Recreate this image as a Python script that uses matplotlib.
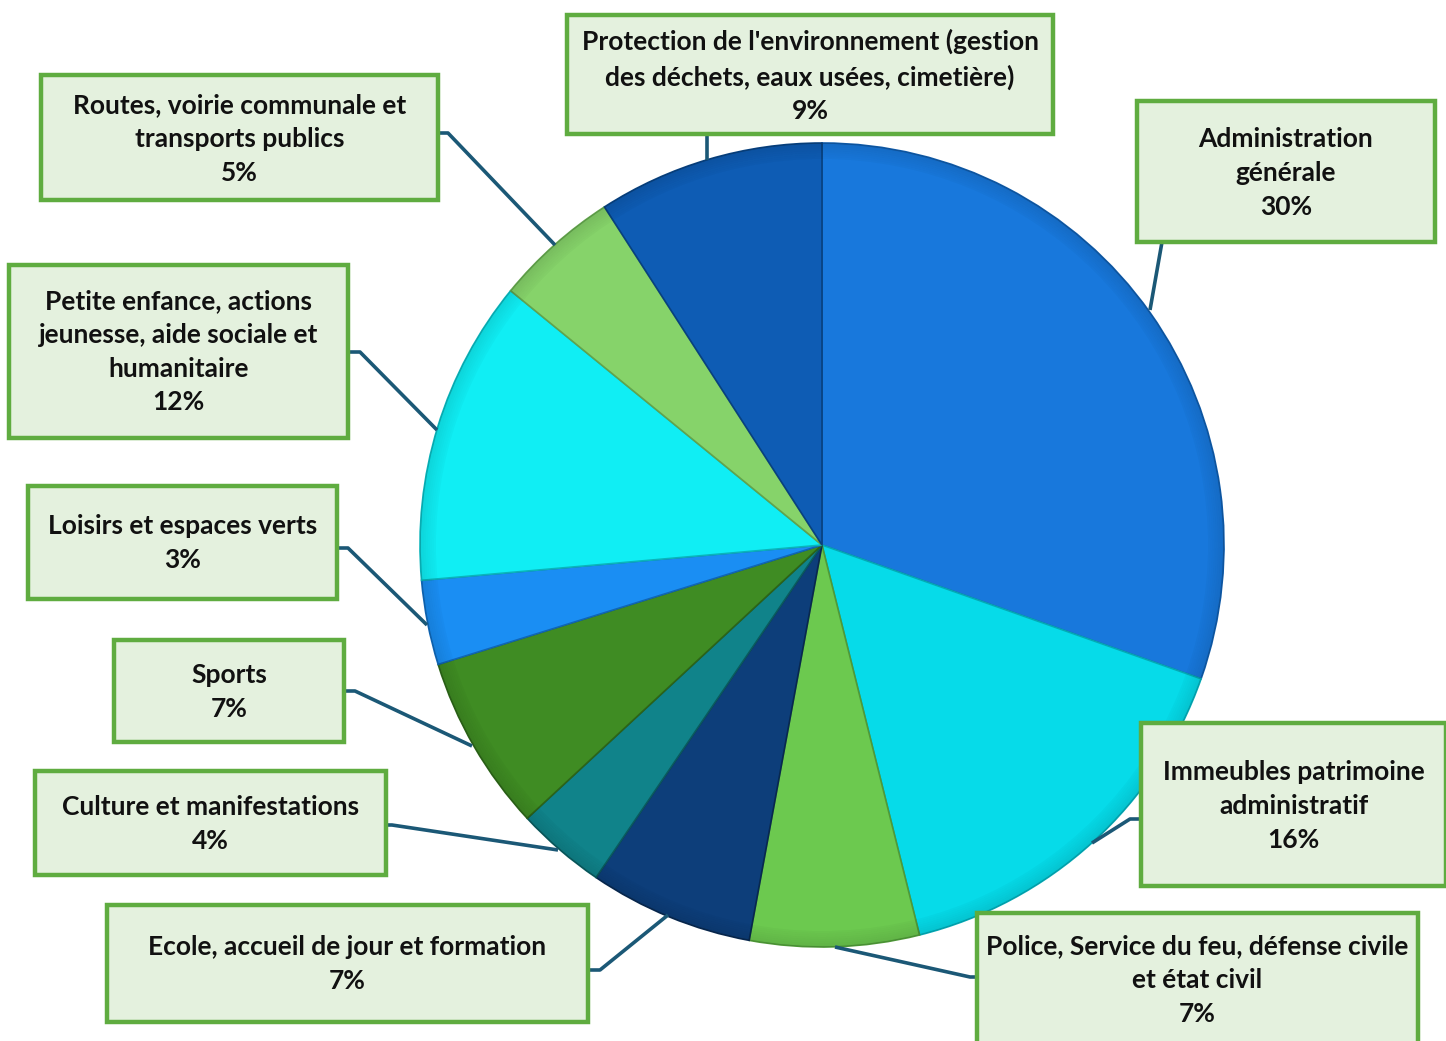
import matplotlib.pyplot as plt
from matplotlib.patches import Rectangle, Wedge

W, H = 1446, 1041

categories = [
    "Administration\ngénérale",
    "Immeubles patrimoine\nadministratif",
    "Police, Service du feu, défense civile\net état civil",
    "Ecole, accueil de jour et formation",
    "Culture et manifestations",
    "Sports",
    "Loisirs et espaces verts",
    "Petite enfance, actions\njeunesse, aide sociale et\nhumanitaire",
    "Routes, voirie communale et\ntransports publics",
    "Protection de l'environnement (gestion\ndes déchets, eaux usées, cimetière)",
]
values = [30.4, 15.7, 6.8, 6.6, 3.6, 7.1, 3.4, 12.3, 5.0, 9.1]
colors = ["#1878dc", "#06dbe9", "#6cc94f", "#0d3e7a", "#10838a",
          "#3f8c23", "#1a8ef3", "#10eef4", "#86d36a", "#0e5cb4"]
edges = ["#0f5aa8", "#04a9b5", "#4f9a38", "#08284f", "#0a5a5e",
         "#2c6418", "#1066b5", "#0ab4ba", "#62a44c", "#08417f"]

# label boxes in pixels: x0, y0 (top), x1, y1 (bottom)
boxes = [
    (1137, 101, 1435, 242),
    (1141, 723, 1446, 886),
    (977, 913, 1418, 1045),
    (107, 905, 588, 1022),
    (35, 771, 386, 875),
    (114, 640, 344, 742),
    (28, 486, 337, 599),
    (9, 265, 348, 438),
    (41, 75, 438, 200),
    (567, 15, 1053, 134),
]
text_y = [173, 806, 980, 964, 824, 692, 543, 352, 139, 76]
leaders = [
    [(1162, 242), (1150, 310)],
    [(1141, 819), (1130, 819), (1092, 843)],
    [(977, 977), (970, 977), (835, 947)],
    [(588, 970), (600, 970), (668, 915)],
    [(386, 825), (392, 825), (558, 850)],
    [(344, 691), (355, 691), (472, 746)],
    [(337, 548), (348, 548), (427, 625)],
    [(348, 352), (360, 352), (437, 430)],
    [(438, 133), (448, 133), (555, 245)],
    [(707, 134), (707, 160)],
]

cx, cy, r = 822, H - 545, 402

fig = plt.figure(figsize=(W / 100, H / 100), dpi=100)
ax = fig.add_axes([0, 0, 1, 1])

wedges, _ = ax.pie(values, colors=colors, startangle=90, counterclock=False,
                   center=(cx, cy), radius=r, frame=True,
                   wedgeprops=dict(linewidth=1.2))
for w, e in zip(wedges, edges):
    w.set_edgecolor(e)

# soft darkening towards the rim, a rough stand-in for the bevel
for k in range(8):
    ax.add_patch(Wedge((cx, cy), r - k * 2, 0, 360, width=2,
                       facecolor="black", alpha=0.10 - k * 0.011,
                       lw=0, zorder=2))

ax.set_xlim(0, W)
ax.set_ylim(0, H)
ax.set_aspect("equal")
ax.axis("off")

for pts in leaders:
    xs = [p[0] for p in pts]
    ys = [H - p[1] for p in pts]
    ax.plot(xs, ys, color="#1b5876", lw=2.6, solid_capstyle="butt", zorder=3)

for cat, v, (x0, y0, x1, y1), ty in zip(categories, values, boxes, text_y):
    ax.add_patch(Rectangle((x0, H - y1), x1 - x0, y1 - y0, facecolor="#e4f1de",
                           edgecolor="#5fac40", lw=3.2, zorder=4))
    label = f"{cat}\n{round(v)}%"
    ax.text((x0 + x1) / 2, H - ty, label, ha="center", va="center",
            fontsize=19, fontweight="bold", family="Lato", color="#111111",
            linespacing=1.48, zorder=5)

fig.savefig("out.png", dpi=100)
